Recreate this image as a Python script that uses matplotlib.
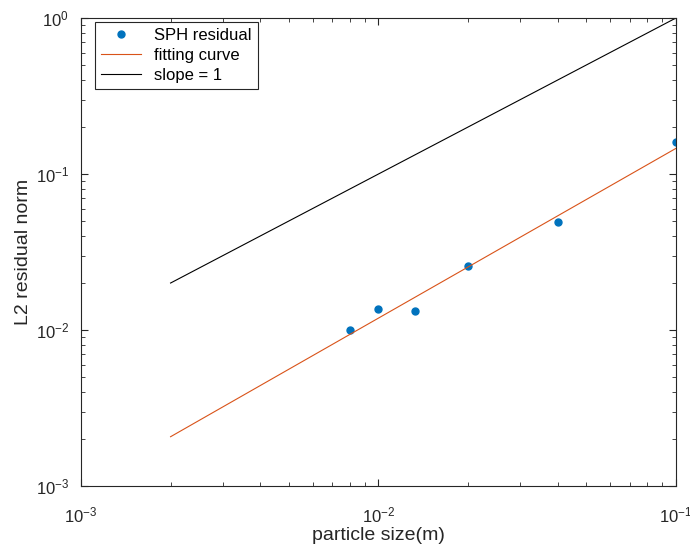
import numpy as np
import matplotlib
matplotlib.use("Agg")
from matplotlib import pyplot as plt

# SPH residual data
h = [0.008, 0.01, 0.0133, 0.02, 0.04, 0.1]
res = [0.0100, 0.0136, 0.0133, 0.0258, 0.0495, 0.160]

# fitting curve and slope reference line end points
fit_x = [0.002, 0.1]
fit_y = [0.00207, 0.146]
ref_x = [0.002, 0.1]
ref_y = [0.02, 1.0]

plt.rcParams['font.family'] = ['Liberation Sans', 'DejaVu Sans']
plt.rcParams['mathtext.fontset'] = 'custom'
plt.rcParams['mathtext.rm'] = 'Liberation Sans'

axc = '#262626'

fig = plt.figure(figsize=(6.9, 5.48), dpi=100)
ax = fig.add_axes([0.1174, 0.1131, 0.8623, 0.8541])

ax.loglog(h, res, 'o', color='#0072BD', markersize=5, label='SPH residual')
ax.loglog(fit_x, fit_y, '-', color='#D95319', linewidth=0.8, label='fitting curve')
ax.loglog(ref_x, ref_y, '-', color='black', linewidth=0.8, label='slope = 1')

ax.set_xlim(1e-3, 1e-1)
ax.set_ylim(1e-3, 1e0)
ax.set_xlabel('particle size(m)', fontsize=14, color=axc, labelpad=1)
ax.set_ylabel('L2 residual norm', fontsize=14, color=axc, labelpad=2.5)

ax.tick_params(which='both', direction='in', top=True, right=True, colors=axc, labelsize=12)
ax.tick_params(which='major', length=5)
ax.tick_params(which='minor', length=3)
ax.tick_params(axis='x', which='both', pad=14)
ax.tick_params(axis='y', which='both', pad=8.5)
for s in ax.spines.values():
    s.set_color(axc)
    s.set_linewidth(0.8)

leg = ax.legend(loc='upper left', bbox_to_anchor=(0.024, 0.991), borderaxespad=0,
                fontsize=12, fancybox=False, framealpha=1, edgecolor=axc,
                handlelength=2.4, labelspacing=0.3, borderpad=0.35)
leg.get_frame().set_linewidth(0.8)

fig.savefig('out.png', dpi=100)
